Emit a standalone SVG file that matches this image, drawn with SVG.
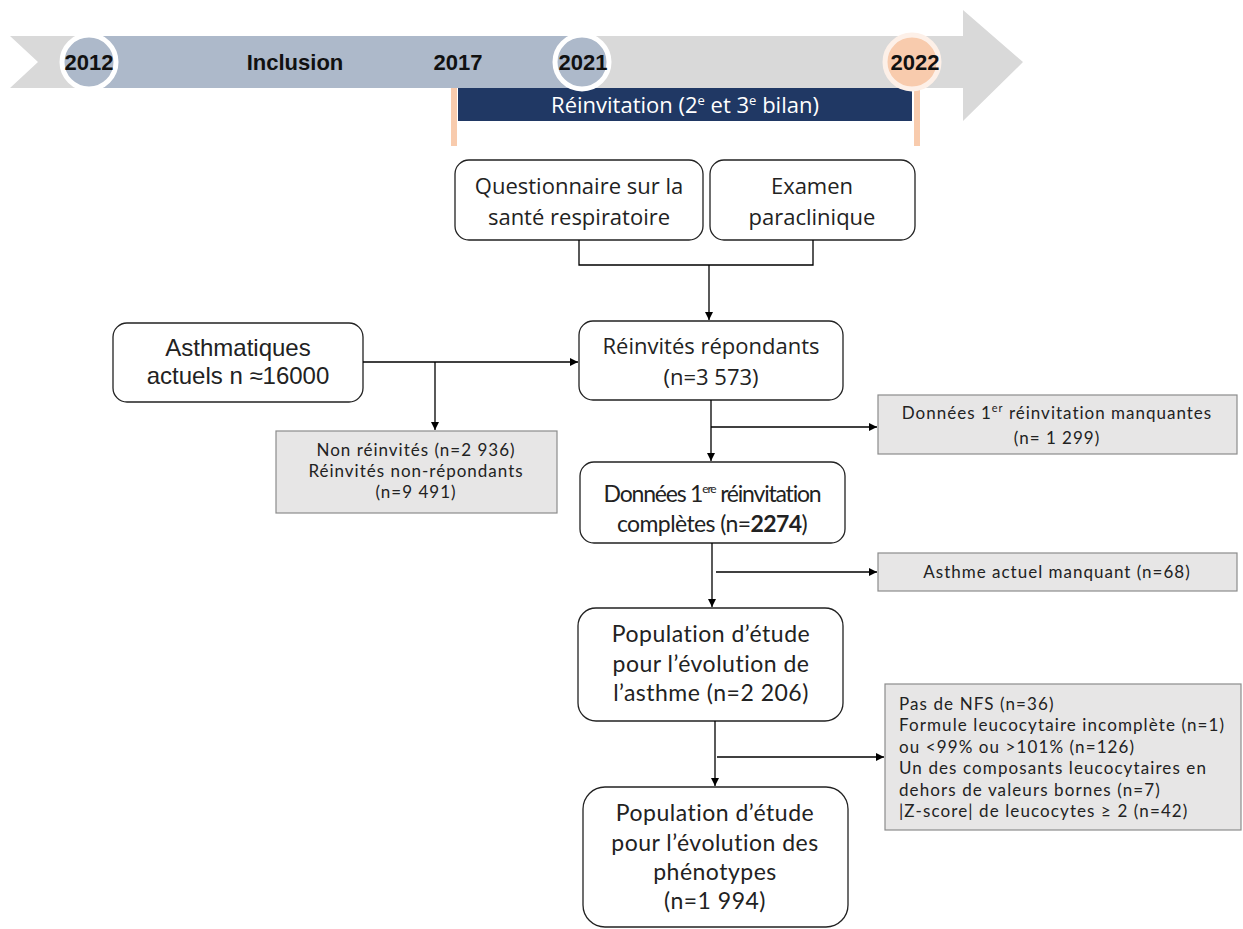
<svg xmlns="http://www.w3.org/2000/svg" width="1243" height="929" viewBox="0 0 1243 929">
<defs>
<marker id="ah" viewBox="0 0 10 10" refX="10" refY="5" markerWidth="8" markerHeight="8" markerUnits="userSpaceOnUse" orient="auto">
<path d="M0,0 L10,5 L0,10 Z" fill="#000"/>
</marker>
</defs>
<style>
.yr{font-family:"Liberation Sans",Arial,sans-serif;font-weight:bold;font-size:22px;fill:#111;text-anchor:middle}
.box{fill:#fff;stroke:#222;stroke-width:1.3}
.grey{fill:#e7e6e6;stroke:#8c8c8c;stroke-width:1.2}
.t{font-family:"Open Sans","Noto Sans",sans-serif;font-size:22px;fill:#222;text-anchor:middle}
.tc{font-family:Lato,"Open Sans",sans-serif;font-size:23px;fill:#222;text-anchor:middle;letter-spacing:0.5px}
.tn{font-family:Lato,"Open Sans",sans-serif;font-size:23px;fill:#222;text-anchor:middle}
.g{font-family:Lato,"Open Sans",sans-serif;font-size:17px;fill:#222;text-anchor:middle;letter-spacing:1px}
.gl{font-family:Lato,"Open Sans",sans-serif;font-size:17px;fill:#222;letter-spacing:1.1px}
.conn{fill:none;stroke:#000;stroke-width:1.3}
</style>
<rect width="1243" height="929" fill="#fff"/>

<g id="timeline">
<path d="M10,36 L963,36 L963,10 L1023,62 L963,121 L963,88 L10,88 L38,62 Z" fill="#d9d9d9"/>
<rect x="89" y="36" width="493" height="52" fill="#adb9ca"/>
<line x1="454" y1="88" x2="454" y2="146" stroke="#f8cbad" stroke-width="6"/>
<line x1="917" y1="88" x2="917" y2="146" stroke="#f8cbad" stroke-width="6"/>
<rect x="458" y="88" width="454" height="33" fill="#203864"/>
<text x="685" y="113" font-family="Open Sans, Noto Sans, sans-serif" font-size="22" fill="#fff" text-anchor="middle">Réinvitation (2<tspan font-size="13" dy="-8">e</tspan><tspan dy="8"> et 3</tspan><tspan font-size="13" dy="-8">e</tspan><tspan dy="8"> bilan)</tspan></text>
<circle cx="89" cy="62" r="27" fill="#adb9ca" stroke="#fff" stroke-width="5"/>
<circle cx="582" cy="62" r="27" fill="#adb9ca" stroke="#fff" stroke-width="5"/>
<circle cx="912" cy="62" r="27" fill="#f8cbad" stroke="#fdf0e8" stroke-width="5"/>
<text class="yr" x="89" y="70">2012</text>
<text class="yr" x="295" y="70">Inclusion</text>
<text class="yr" x="458" y="70">2017</text>
<text class="yr" x="583" y="70">2021</text>
<text class="yr" x="915" y="70">2022</text>
</g>

<g id="questionnaire">
<rect class="box" x="455" y="160" width="248" height="80" rx="14"/>
<text class="t" x="579" y="194">Questionnaire sur la</text>
<text class="t" x="579" y="225">santé respiratoire</text>
</g>
<g id="examen">
<rect class="box" x="710" y="160" width="205" height="80" rx="14"/>
<text class="t" x="812" y="194">Examen</text>
<text class="t" x="812" y="225">paraclinique</text>
</g>
<g id="reinvites">
<rect class="box" x="579" y="321" width="264" height="79" rx="14"/>
<text class="t" x="711" y="354">Réinvités répondants</text>
<text class="t" x="711" y="385">(n=3 573)</text>
</g>
<g id="asthmatiques">
<rect class="box" x="113" y="323" width="250" height="79" rx="14"/>
<text x="238" y="356" font-family="Liberation Sans, Arial, sans-serif" font-size="24" fill="#222" text-anchor="middle">Asthmatiques</text>
<text x="238" y="384" font-family="Liberation Sans, Arial, sans-serif" font-size="24" fill="#222" text-anchor="middle">actuels n ≈16000</text>
</g>
<g id="nonreinvites">
<rect class="grey" x="276" y="431" width="281" height="82"/>
<text class="g" x="416" y="456">Non réinvités (n=2 936)</text>
<text class="g" x="416" y="477">Réinvités non-répondants</text>
<text class="g" x="416" y="498">(n=9 491)</text>
</g>
<g id="manquantes">
<rect class="grey" x="878" y="395" width="359" height="59"/>
<text class="g" x="1057" y="419">Données 1<tspan font-size="11" dy="-7">er</tspan><tspan dy="7"> réinvitation manquantes</tspan></text>
<text class="g" x="1057" y="444">(n= 1 299)</text>
</g>
<g id="completes">
<rect class="box" x="580" y="462" width="265" height="81" rx="14"/>
<text class="tn" x="712" y="502" style="letter-spacing:-1.2px">Données 1<tspan font-size="12" dy="-9">ere</tspan><tspan dy="9"> réinvitation</tspan></text>
<text class="tn" x="712" y="532" style="letter-spacing:-0.6px">complètes (n=<tspan font-weight="bold">2274</tspan>)</text>
</g>
<g id="asthmemanquant">
<rect class="grey" x="878" y="553" width="359" height="38"/>
<text class="g" x="1057" y="578">Asthme actuel manquant (n=68)</text>
</g>
<g id="pop1">
<rect class="box" x="578" y="608" width="265" height="113" rx="18"/>
<text class="tc" x="711" y="642">Population d’étude</text>
<text class="tc" x="711" y="672">pour l’évolution de</text>
<text class="tc" x="711" y="701">l’asthme (n=2 206)</text>
</g>
<g id="nfs">
<rect class="grey" x="885" y="684" width="356" height="146"/>
<text class="gl" x="899" y="710">Pas de NFS (n=36)</text>
<text class="gl" x="899" y="731">Formule leucocytaire incomplète (n=1)</text>
<text class="gl" x="899" y="753">ou &lt;99% ou &gt;101% (n=126)</text>
<text class="gl" x="899" y="774">Un des composants leucocytaires en</text>
<text class="gl" x="899" y="796">dehors de valeurs bornes (n=7)</text>
<text class="gl" x="899" y="817">|Z-score| de leucocytes ≥ 2 (n=42)</text>
</g>
<g id="pop2">
<rect class="box" x="583" y="787" width="265" height="140" rx="22"/>
<text class="tc" x="715" y="821">Population d’étude</text>
<text class="tc" x="715" y="851">pour l’évolution des</text>
<text class="tc" x="715" y="880">phénotypes</text>
<text class="tc" x="715" y="909">(n=1 994)</text>
</g>

<g id="connectors">
<path class="conn" d="M579,240 V265 H813 V240"/>
<path class="conn" d="M709,265 V320" marker-end="url(#ah)"/>
<path class="conn" d="M363,362 H578" marker-end="url(#ah)"/>
<path class="conn" d="M435,362 V430" marker-end="url(#ah)"/>
<path class="conn" d="M711,400 V461" marker-end="url(#ah)"/>
<path class="conn" d="M711,427 H877" marker-end="url(#ah)"/>
<path class="conn" d="M712,543 V607" marker-end="url(#ah)"/>
<path class="conn" d="M716,572 H877" marker-end="url(#ah)"/>
<path class="conn" d="M715,721 V786" marker-end="url(#ah)"/>
<path class="conn" d="M717,757 H884" marker-end="url(#ah)"/>
</g>
</svg>
